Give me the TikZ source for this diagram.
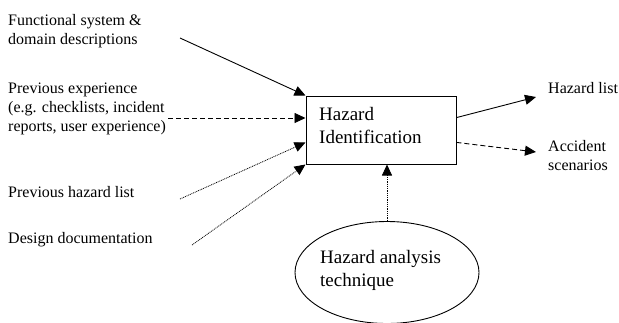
\documentclass[tikz,border=0pt]{standalone}
\usepackage{fontspec}
\setmainfont{Liberation Serif}
\usetikzlibrary{arrows.meta,shapes.geometric,calc}

\tikzset{
  label/.style={anchor=base west, inner sep=0pt, align=left,
                font=\fontsize{16}{19}\selectfont},
  biglabel/.style={anchor=base west, inner sep=0pt, align=left,
                   font=\fontsize{19}{23}\selectfont},
  conn/.style={line width=0.9pt, -{Triangle[length=11pt,width=10pt]}},
  dashconn/.style={conn, dash pattern=on 5pt off 3pt},
  dotconn/.style={conn, line width=0.8pt, dash pattern=on 0.9pt off 0.9pt},
  procbox/.style={draw, line width=1pt, rectangle, minimum width=150pt,
                  minimum height=68pt, inner sep=0pt},
  technique/.style={draw, line width=0.9pt, ellipse, inner sep=0pt,
                    minimum width=184pt, minimum height=102pt}
}

\begin{document}
\begin{tikzpicture}[x=1pt, y=-1pt]
  \useasboundingbox (0,0) rectangle (619,322);

  % central process and the analysis technique feeding it
  \node[procbox] (box) at (381,130) {};
  \node[biglabel] (boxtext) at (319,143) {Hazard\\Identification};
  \node[technique] (ell) at (387,272.5) {};
  \node[biglabel] (elltext) at (320,286) {Hazard analysis\\technique};

  % inputs (base anchor sits on the last line)
  \node[label] (fsd) at (8,44.5) {Functional system \&\\domain descriptions};
  \node[label] (pex) at (8,131.5) {Previous experience\\(e.g. checklists, incident\\reports, user experience)};
  \node[label] (phl) at (8,197) {Previous hazard list};
  \node[label] (dd)  at (8,243) {Design documentation};

  % outputs
  \node[label] (hl) at (548,93) {Hazard list};
  \node[label] (as) at (548,170) {Accident\\scenarios};

  % connector end points
  \coordinate (s1) at (180,38);
  \coordinate (s2) at (168,118);
  \coordinate (s3) at (180,199);
  \coordinate (s4) at (192,245);
  \coordinate (e1) at (536,97);
  \coordinate (e2) at (536,152);
  \coordinate (t3) at ($(box.south west)!0.32!(box.north west)$);
  \coordinate (o1) at ($(box.north east)!0.32!(box.south east)$);
  \coordinate (o2) at ($(box.south east)!0.32!(box.north east)$);

  \draw[conn]     (s1) -- (box.north west);
  \draw[dashconn] (s2) -- (s2 -| box.west);
  \draw[dotconn]  (s3) -- (t3);
  \draw[dotconn]  (s4) -- (box.south west);

  \draw[conn]     (o1) -- (e1);
  \draw[dashconn] (o2) -- (e2);

  \draw[dotconn]  (ell.north) -- (ell.north |- box.south);
\end{tikzpicture}
\end{document}
